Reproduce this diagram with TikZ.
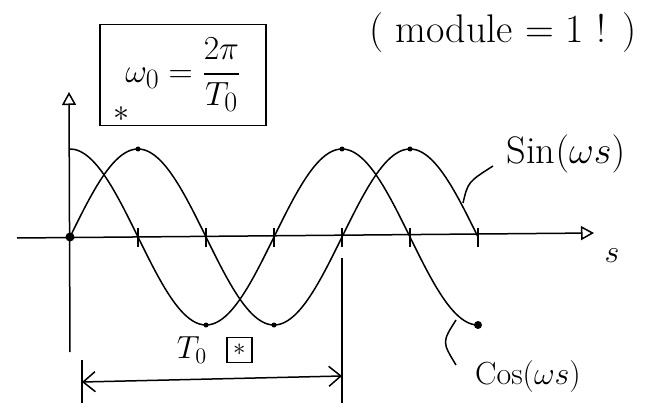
\documentclass[tikz,border=0pt]{standalone}
\usepackage{amsmath,amssymb}
\usetikzlibrary{arrows.meta,positioning}

\begin{document}
\begin{tikzpicture}[
        x=1pt, y=-1pt,
        line width=1.5pt,
        axis/.style={draw, -{Triangle[open, length=13pt, width=14pt]}},
        wave/.style={draw, smooth, samples=90},
        tickmark/.style={draw},
        knot/.style={circle, fill, inner sep=0pt, minimum size=5pt},
        bigknot/.style={circle, fill, inner sep=0pt, minimum size=9pt},
        formula/.style={draw, minimum width=123pt, minimum height=75pt, font=\Huge, scale=1.35},
        txt/.style={inner sep=1pt, font=\LARGE, scale=1.85},
        leader/.style={draw},
        dimline/.style={draw, {Straight Barb[length=12pt, width=20pt]}-{Straight Barb[length=12pt, width=20pt]}}
    ]
    \useasboundingbox (0,0) rectangle (653,417);
    \node [formula] (omega) at (183,75) {$\omega_0 = \dfrac{2\pi}{T_0}$};
    \node [txt, font=\bfseries\LARGE] (star) at (121,114) {$\ast$};
    \node [txt, scale=1.25] (modnote) at (503,33) {( module $=$ 1 ! )};
    \coordinate (sleft) at (17,238);
    \coordinate (sright) at (594,233);
    \coordinate (vbottom) at (70,352);
    \coordinate (vtop) at (69,92);
    \path [axis] (sleft) -- (sright);
    \path [axis] (vbottom) -- (vtop);
    \node [txt] (slabel) at (612,256) {$s$};
    \foreach \t in {138,206,274,342,410,478}
        \path [tickmark] (\t,228) -- (\t,247);
    \path [wave] plot [domain=0:408] ({70+\x}, {237-88*sin(1.32353*\x)});
    \path [wave] plot [domain=0:408] ({70+\x}, {237-88*cos(1.32353*\x)});
    \node [bigknot] (origin) at (70,237) {};
    \node [knot] (sinmax1) at (138,149) {};
    \node [knot] (cosmin1) at (206,325) {};
    \node [knot] (sinmin1) at (274,325) {};
    \node [knot] (cosmax1) at (342,149) {};
    \node [knot] (sinmax2) at (410,149) {};
    \node [bigknot, minimum size=8pt] (cosend) at (478,325) {};
    \node [txt, scale=1.2] (sinlabel) at (566,154) {Sin$(\omega s)$};
    \coordinate (sinfoot) at (463,203);
    \coordinate (sinhead) at (493,166);
    \path [leader] (sinfoot) .. controls (468,182) .. (sinhead);
    \node [txt] (coslabel) at (528,377) {Cos$(\omega s)$};
    \coordinate (costop) at (456,320);
    \coordinate (cosbottom) at (456,365);
    \path [leader] (costop) .. controls (442,342) .. (cosbottom);
    \coordinate (lefttop) at (82,360);
    \coordinate (leftbottom) at (82,403);
    \coordinate (righttop) at (342,258);
    \coordinate (rightbottom) at (342,403);
    \path [leader] (lefttop) -- (leftbottom);
    \path [leader] (righttop) -- (rightbottom);
    \coordinate (dimstart) at (82,382);
    \coordinate (dimend) at (342,376);
    \path [dimline] (dimstart) -- (dimend);
    \node [txt] (period) at (192,350) {$T_0$};
    \node [draw, line width=1.2pt, minimum size=25pt, inner sep=0pt, font=\Huge, right=16pt of period] (periodstar) {$\ast$};
\end{tikzpicture}
\end{document}
